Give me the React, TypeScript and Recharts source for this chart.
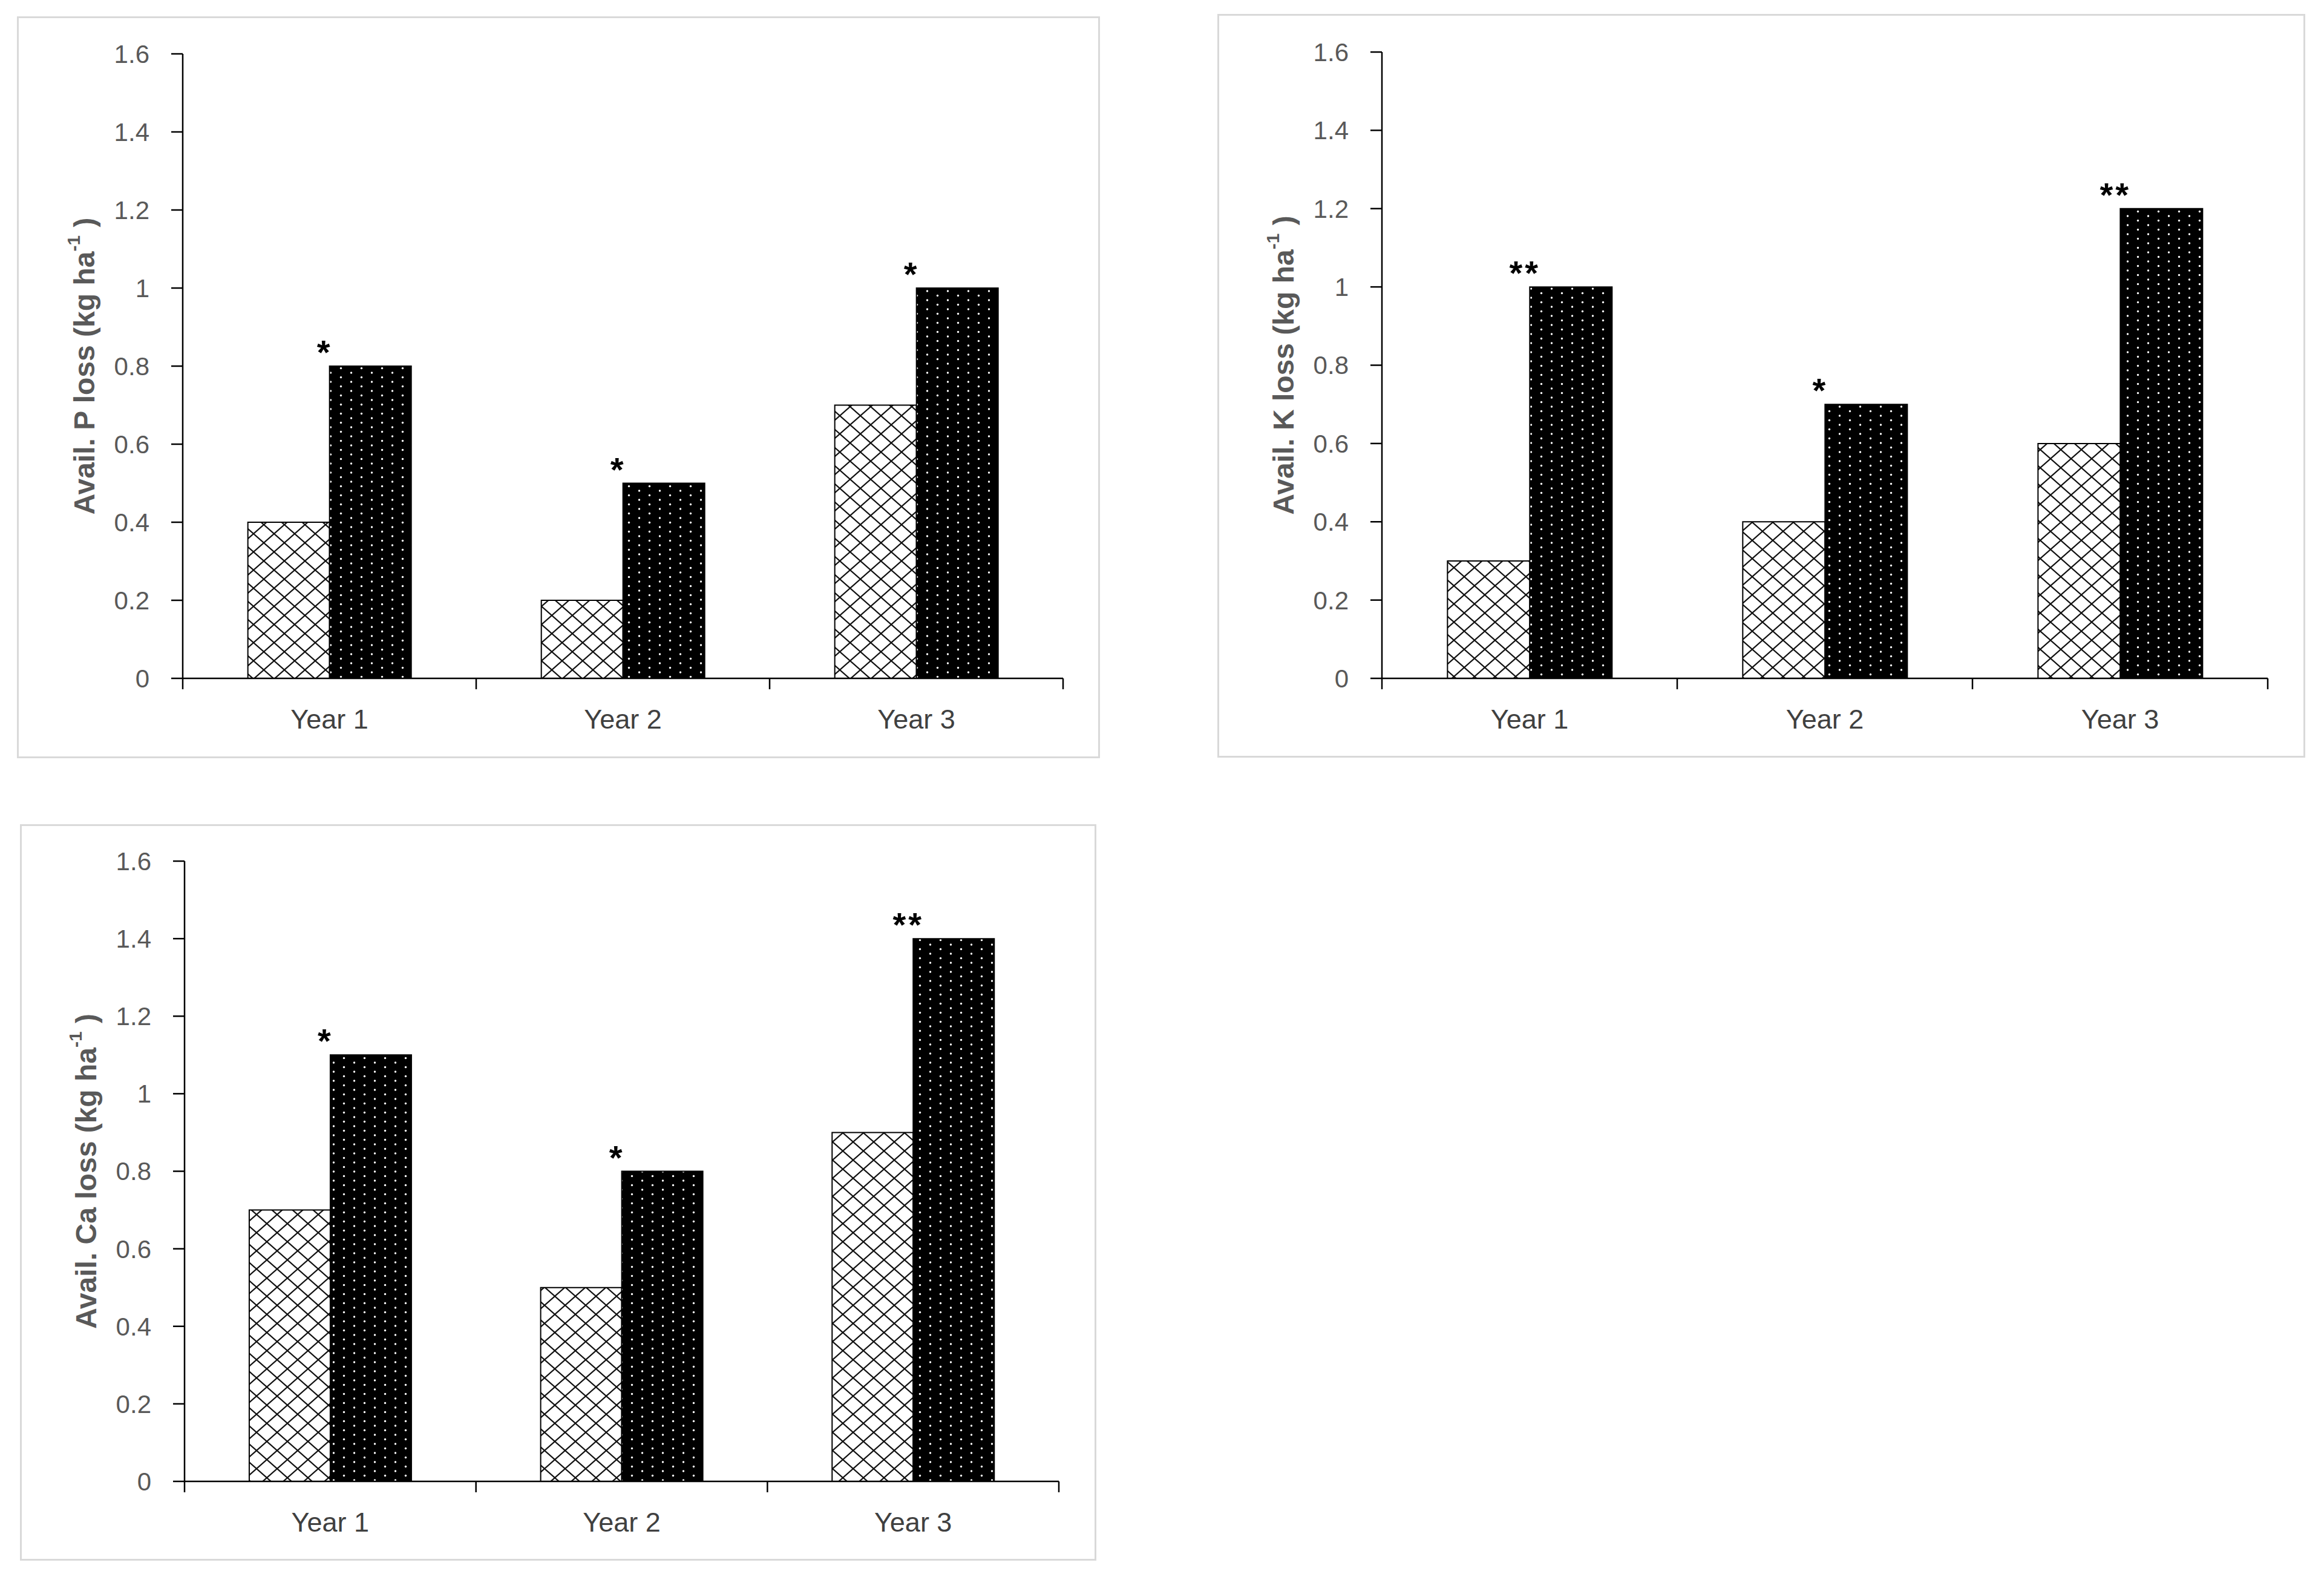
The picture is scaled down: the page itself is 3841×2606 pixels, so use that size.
import React from "react";
import { BarChart, Bar, XAxis, YAxis, LabelList } from "recharts";

const years = ["Year 1", "Year 2", "Year 3"];
const yTicks = [0, 0.2, 0.4, 0.6, 0.8, 1, 1.2, 1.4, 1.6];

const pHatched = [0.4, 0.2, 0.7];
const pDotted = [0.8, 0.5, 1.0];
const pMarks = ["*", "*", "*"];

const kHatched = [0.3, 0.4, 0.6];
const kDotted = [1.0, 0.7, 1.2];
const kMarks = ["**", "*", "**"];

const caHatched = [0.7, 0.5, 0.9];
const caDotted = [1.1, 0.8, 1.4];
const caMarks = ["*", "*", "**"];

const FONT = '"Liberation Sans", Arial, sans-serif';
const Y_AXIS_W = 150;
const X_AXIS_H = 100;
const TICK_SIZE = 6;
const TICK_MARGIN = 45;

function build(hatched: number[], dotted: number[], marks: string[]) {
  return years.map((year, i) => ({ year, hatched: hatched[i], dotted: dotted[i], mark: marks[i] }));
}

const panels = [
  {
    id: "p",
    title: "Avail. P loss",
    data: build(pHatched, pDotted, pMarks),
    box: { left: 28, top: 27, width: 1790, height: 1226 },
    plot: { left: 302, top: 89, right: 1757, bottom: 1121 },
  },
  {
    id: "k",
    title: "Avail. K loss",
    data: build(kHatched, kDotted, kMarks),
    box: { left: 2012, top: 23, width: 1798, height: 1229 },
    plot: { left: 2284, top: 86, right: 3748, bottom: 1121 },
  },
  {
    id: "ca",
    title: "Avail. Ca loss",
    data: build(caHatched, caDotted, caMarks),
    box: { left: 33, top: 1362, width: 1779, height: 1217 },
    plot: { left: 305, top: 1423, right: 1750, bottom: 2448 },
  },
];

// category label plus boundary tick marks (Excel puts ticks between categories)
function YearTick(props: any) {
  const { x, y, payload, index, visibleTicksCount } = props;
  const axisY = y - TICK_SIZE - TICK_MARGIN;
  const half = payload.offset ?? 0;
  const last = index === visibleTicksCount - 1;
  return (
    <g>
      <line x1={x - half} x2={x - half} y1={axisY} y2={axisY + 18} stroke="#000" strokeWidth={2.5} />
      {last && <line x1={x + half} x2={x + half} y1={axisY} y2={axisY + 18} stroke="#000" strokeWidth={2.5} />}
      <text x={x} y={y} dy="0.71em" textAnchor="middle" fontSize={45} fill="#404040" fontFamily={FONT}>
        {payload.value}
      </text>
    </g>
  );
}

function YTitle(title: string) {
  return (props: any) => {
    const vb = props.viewBox || {};
    const cx = vb.x + vb.width - 163;
    const cy = vb.y + vb.height / 2;
    return (
      <text
        x={cx}
        y={cy}
        transform={`rotate(-90, ${cx}, ${cy})`}
        textAnchor="middle"
        dominantBaseline="central"
        fontSize={48}
        fontWeight="bold"
        fill="#595959"
        fontFamily={FONT}
      >
        {title} (kg ha
        <tspan dy={-18} fontSize={30}>-1</tspan>
        <tspan dy={18}> )</tspan>
      </text>
    );
  };
}

function Asterisk(props: any) {
  const { x, y, value } = props;
  return (
    <text
      x={x - 8}
      y={y - 4}
      textAnchor="middle"
      fontSize={56}
      fontWeight="bold"
      fill="#000"
      fontFamily={FONT}
      letterSpacing={4}
    >
      {value}
    </text>
  );
}

function Panel({ panel }: { panel: (typeof panels)[number] }) {
  const { box, plot, id } = panel;
  const margin = {
    top: plot.top - box.top,
    right: box.left + box.width - plot.right,
    bottom: box.top + box.height - plot.bottom - X_AXIS_H,
    left: plot.left - box.left - Y_AXIS_W,
  };
  return (
    <>
      <div
        style={{
          position: "absolute",
          left: box.left,
          top: box.top,
          width: box.width,
          height: box.height,
          border: "3px solid #d9d9d9",
          boxSizing: "border-box",
          background: "#fff",
        }}
      />
      <div style={{ position: "absolute", left: box.left, top: box.top }}>
        <BarChart
          width={box.width}
          height={box.height}
          data={panel.data}
          margin={margin}
          barCategoryGap="22.2%"
          barGap={0}
        >
          <defs>
            <pattern id={`hatch-${id}`} patternUnits="userSpaceOnUse" width={34} height={30}>
              <rect width={34} height={30} fill="#fff" />
              <path d="M0,0 L34,30 M34,0 L0,30" stroke="#111" strokeWidth={2.2} />
            </pattern>
            <pattern id={`dots-${id}`} patternUnits="userSpaceOnUse" width={34} height={15}>
              <rect width={34} height={15} fill="#000" />
              <circle cx={8.5} cy={4} r={1.7} fill="#fff" />
              <circle cx={25.5} cy={11.5} r={1.7} fill="#fff" />
            </pattern>
          </defs>
          <XAxis
            dataKey="year"
            height={X_AXIS_H}
            tickLine={false}
            tickSize={TICK_SIZE}
            tickMargin={TICK_MARGIN}
            axisLine={{ stroke: "#000", strokeWidth: 2.5 }}
            tick={<YearTick />}
            interval={0}
          />
          <YAxis
            width={Y_AXIS_W}
            domain={[0, 1.6]}
            ticks={yTicks}
            interval={0}
            tickSize={19}
            tickMargin={36}
            axisLine={{ stroke: "#000", strokeWidth: 2.5 }}
            tickLine={{ stroke: "#000", strokeWidth: 2.5 }}
            tick={{ fontSize: 42, fill: "#595959", fontFamily: FONT }}
            label={YTitle(panel.title)}
          />
          <Bar
            dataKey="hatched"
            fill={`url(#hatch-${id})`}
            stroke="#000"
            strokeWidth={2}
            isAnimationActive={false}
          />
          <Bar
            dataKey="dotted"
            fill={`url(#dots-${id})`}
            stroke="#000"
            strokeWidth={2}
            isAnimationActive={false}
          >
            <LabelList dataKey="mark" content={<Asterisk />} />
          </Bar>
        </BarChart>
      </div>
    </>
  );
}

export default function App() {
  return (
    <div style={{ position: "absolute", left: 0, top: 0, width: 3841, height: 2606, background: "#fff" }}>
      {panels.map((p) => (
        <Panel key={p.id} panel={p} />
      ))}
    </div>
  );
}
